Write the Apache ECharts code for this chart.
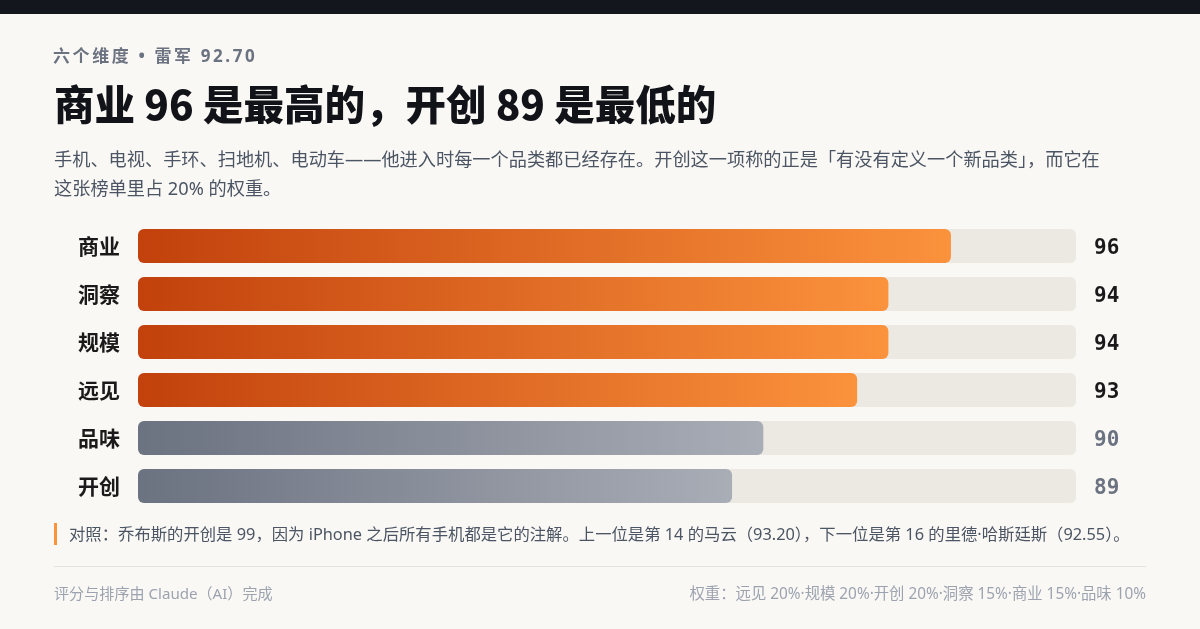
<!DOCTYPE html>
<html>
<head>
<meta charset="utf-8">
<script src="https://cdn.jsdelivr.net/npm/echarts@6/dist/echarts.min.js"></script>
<style>
html,body{margin:0;padding:0;background:#faf8f5;}
#c{width:1200px;height:629px;}
</style>
</head>
<body>
<div id="c"></div>
<script>
const categories = ['商业', '洞察', '规模', '远见', '品味', '开创'];
const values = [96, 94, 94, 93, 90, 89];
const overall = 92.70;
const axisMin = 70;
const axisMax = 100;
const eyebrowText = '六个维度 • 雷军 92.70';

const FONT = '"Noto Sans CJK SC", "Noto Sans", sans-serif';
const BODY = '"Noto Sans", "Noto Sans CJK SC", sans-serif';
const MONO = '"DejaVu Sans Mono", monospace';
const chart = echarts.init(document.getElementById('c'));

// letter-spaced text helper (one text element per character)
function spacedText(str, x, y, font, fill, spacing) {
  const ctx = document.createElement('canvas').getContext('2d');
  ctx.font = font;
  const children = [];
  let cx = 0;
  for (const ch of str) {
    children.push({ type: 'text', x: cx, y: 0, style: { text: ch, font: font, fill: fill } });
    cx += ctx.measureText(ch).width + spacing;
  }
  return { type: 'group', left: x, top: y, children: children };
}

const orangeGrad = new echarts.graphic.LinearGradient(0, 0, 1, 0, [
  { offset: 0, color: '#c2410c' }, { offset: 1, color: '#fb923c' }
]);
const greyGrad = new echarts.graphic.LinearGradient(0, 0, 1, 0, [
  { offset: 0, color: '#6b7280' }, { offset: 1, color: '#a9adb6' }
]);

const option = {
  backgroundColor: '#faf8f5',
  animation: false,
  grid: { left: 138, right: 124, top: 222, height: 288 },
  xAxis: { type: 'value', min: axisMin, max: axisMax, show: false },
  yAxis: [
    {
      type: 'category', data: categories, inverse: true,
      axisLine: { show: false }, axisTick: { show: false },
      axisLabel: { margin: 18, color: '#1a1a1a', fontSize: 21, fontWeight: 'bold', fontFamily: FONT, padding: [3, 0, 0, 0] }
    },
    {
      type: 'category', data: values.map(v => String(v)), inverse: true, position: 'right',
      axisLine: { show: false }, axisTick: { show: false },
      axisLabel: {
        margin: 18,
        formatter: (val, idx) => '{' + (values[idx] > overall ? 'hi' : 'lo') + '|' + val + '}',
        rich: {
          hi: { fontSize: 21, fontWeight: 'bold', fontFamily: MONO, color: '#1a1a1a', padding: [6, 0, 0, 0] },
          lo: { fontSize: 21, fontWeight: 'bold', fontFamily: MONO, color: '#6b7280', padding: [6, 0, 0, 0] }
        }
      }
    }
  ],
  series: [{
    type: 'bar',
    barWidth: 34,
    showBackground: true,
    backgroundStyle: { color: '#ece9e3', borderRadius: 6 },
    data: values.map(v => ({
      value: v,
      itemStyle: { color: v > overall ? orangeGrad : greyGrad, borderRadius: 6 }
    }))
  }],
  graphic: [
    { type: 'rect', left: 0, top: 0, shape: { width: 1200, height: 14 }, style: { fill: '#14161d' } },
    spacedText(eyebrowText, 53, 49, 'bold 17px ' + BODY, '#6b7280', 2.6),
    { type: 'text', left: 54, top: 84, style: { text: '商业 96 是最高的，开创 89 是最低的', font: '900 40.5px ' + FONT, fill: '#111318' } },
    { type: 'text', left: 54, top: 146, style: {
      text: '手机、电视、手环、扫地机、电动车——他进入时每一个品类都已经存在。开创这一项称的正是「有没有定义一个新品类」，而它在\n这张榜单里占 20% 的权重。',
      font: '18.2px ' + BODY, fill: '#4b5563', lineHeight: 29 } },
    { type: 'rect', left: 54, top: 523, shape: { width: 3, height: 22 }, style: { fill: '#fb923c' } },
    { type: 'text', left: 69, top: 527, style: {
      text: '对照：乔布斯的开创是 99，因为 iPhone 之后所有手机都是它的注解。上一位是第 14 的马云（93.20），下一位是第 16 的里德·哈斯廷斯（92.55）。',
      font: '16.35px ' + BODY, fill: '#4b5563' } },
    { type: 'rect', left: 54, top: 566, shape: { width: 1092, height: 1 }, style: { fill: '#e6e3de' } },
    { type: 'text', left: 54, top: 587, style: { text: '评分与排序由 Claude（AI）完成', font: '15.1px ' + BODY, fill: '#9ca3af' } },
    { type: 'text', right: 54, top: 587, style: { text: '权重：远见 20%·规模 20%·开创 20%·洞察 15%·商业 15%·品味 10%', font: '15.35px ' + BODY, fill: '#9ca3af' } }
  ]
};
chart.setOption(option);
</script>
</body>
</html>
